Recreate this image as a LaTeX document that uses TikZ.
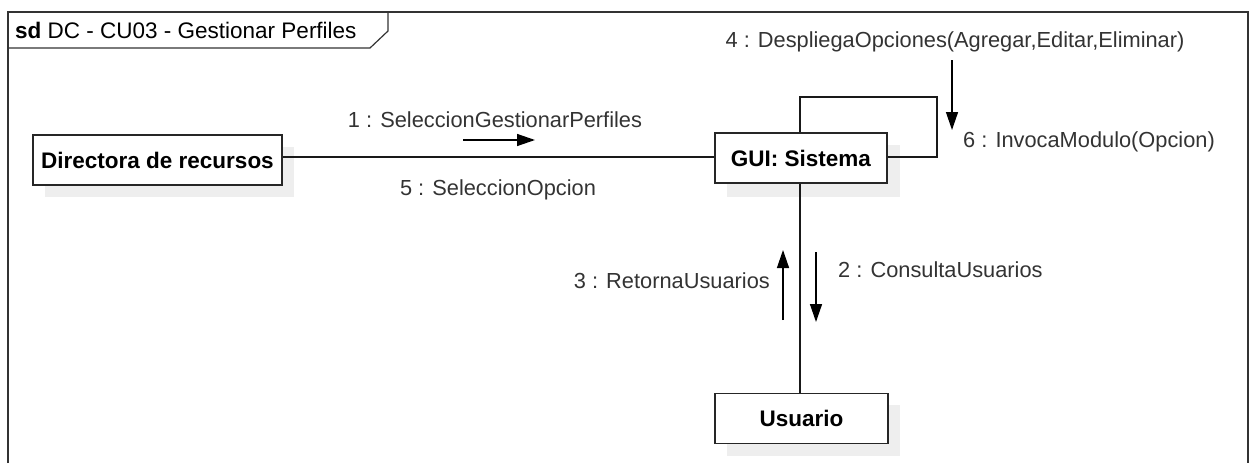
\documentclass[tikz,border=0pt]{standalone}
\usepackage{fontspec}
\setmainfont{Liberation Sans}
\usetikzlibrary{arrows.meta}
\definecolor{shade}{HTML}{EEEEEE}
\definecolor{lbl}{HTML}{333333}
\tikzset{
  obj/.style={draw=black!85, line width=1.4pt, fill=white, minimum height=50pt, font=\fontsize{22.5}{26}\selectfont\bfseries, inner sep=0pt},
  shadowbox/.style={fill=shade, draw=none},
  conn/.style={draw=black!90, line width=1.4pt},
  msg/.style={line width=1.4pt, -{Triangle[length=18pt,width=12pt]}},
  lab/.style={text=lbl, font=\fontsize{21.8}{25}\selectfont, inner sep=0pt}
}
\begin{document}
\begin{tikzpicture}[x=1pt,y=-1pt]
\useasboundingbox (0,0) rectangle (1249,463);
% frame
\draw[line width=1.2pt, draw=black!80] (8,463) -- (8,12) -- (1248,12) -- (1248,463);
\draw[line width=1.2pt, draw=black!80] (8,48) -- (370,48) -- (388,31) -- (388,12);
\node[anchor=west, font=\fontsize{22.5}{26}\selectfont, inner sep=0pt] (title) at (15,30) {\textbf{sd}\ DC - CU03 - Gestionar Perfiles};
% shadows
\fill[shadowbox] (45,147) rectangle (294,197);
\fill[shadowbox] (727,145) rectangle (900,197);
\fill[shadowbox] (727,405) rectangle (900,456);
% connectors
\coordinate (loopA) at (800,97);
\coordinate (loopB) at (937,97);
\coordinate (loopC) at (937,157);
% nodes
\node[obj, minimum width=249pt] (dir) at (157.5,160) {Directora de recursos};
\node[obj, minimum width=172pt] (gui) at (801,158) {GUI: Sistema};
\node[obj, minimum width=173pt] (usu) at (801.5,418.5) {Usuario};
\draw[conn] (dir.east |- 0,157) -- (gui.west |- 0,157);
\draw[conn] (gui.south -| 800,0) -- (usu.north -| 800,0);
\draw[conn] (gui.north -| loopA) -- (loopA) -- (loopB) -- (loopC) -- (gui.east |- loopC);
% messages
\coordinate (m1s) at (463,140); \coordinate (m1e) at (535,140);
\draw[msg] (m1s) -- (m1e);
\node[lab] (l1) at (495,120) {1 : SeleccionGestionarPerfiles};
\node[lab] (l5) at (498,190) {5 : SeleccionOpcion};
\coordinate (m4s) at (952,60); \coordinate (m4e) at (952,130);
\draw[msg] (m4s) -- (m4e);
\node[lab] (l4) at (955,42) {4 : DespliegaOpciones(Agregar,Editar,Eliminar)};
\node[lab, anchor=west] (l6) at (963,142) {6 : InvocaModulo(Opcion)};
\coordinate (m2s) at (816,252); \coordinate (m2e) at (816,322);
\draw[msg] (m2s) -- (m2e);
\node[lab, anchor=west] (l2) at (838,270) {2 : ConsultaUsuarios};
\coordinate (m3s) at (783,320); \coordinate (m3e) at (783,250);
\draw[msg] (m3s) -- (m3e);
\node[lab, anchor=east] (l3) at (770,281) {3 : RetornaUsuarios};
\end{tikzpicture}
\end{document}
